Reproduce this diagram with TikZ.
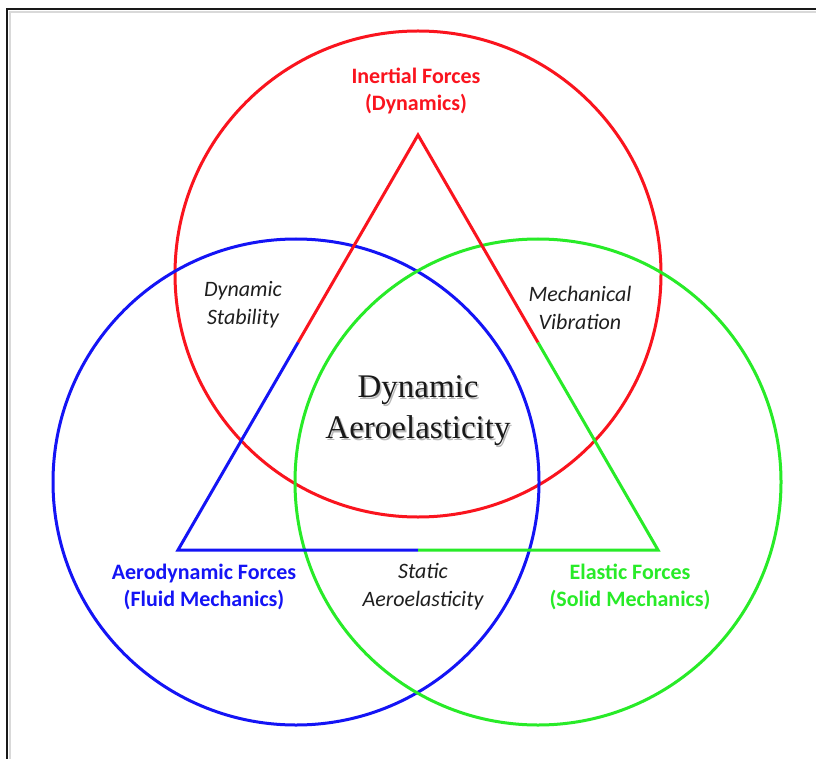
\documentclass[tikz,border=0pt]{standalone}
\usepackage{fontspec}
\setmainfont{Carlito}
\newfontfamily\serifbig{Liberation Serif}
\definecolor{vred}{RGB}{250,20,30}
\definecolor{vblue}{RGB}{20,20,245}
\definecolor{vgreen}{RGB}{40,235,40}
\newcommand{\shadowed}[1]{\makebox[0pt][l]{\hspace{1.6pt}\raisebox{-1.6pt}[0pt][0pt]{\color{black!28}#1}}#1}
\tikzset{
  ring/.style={circle,draw,line width=3pt,minimum size=486pt,inner sep=0pt},
  tri/.style={line width=3pt,line join=miter},
  headlab/.style={font=\fontsize{22}{27}\selectfont\bfseries,align=center},
  itlab/.style={font=\fontsize{22}{28}\selectfont\itshape,align=center,text=black!88},
  biglab/.style={font=\serifbig\fontsize{33}{41}\selectfont,align=center}
}
\begin{document}
\begin{tikzpicture}[x=1pt,y=-1pt]
\useasboundingbox (0,0) rectangle (816,759);
\fill[white] (0,0) rectangle (816,759);
\draw[black!15,line width=1.5pt] (10,775) -- (10,12) -- (830,12);
\draw[black!90,line width=2pt] (7,775) -- (7,9) -- (830,9);
% circles
\node[ring,draw=vred] (cR) at (418,274) {};
\node[ring,draw=vblue] (cB) at (296,482) {};
\node[ring,draw=vgreen] (cG) at (538,482) {};
% triangle
\coordinate (A) at (418,135);
\coordinate (L) at (178,550);
\coordinate (Rt) at (658,550);
\coordinate (ML) at (298,342.5);
\coordinate (MR) at (538,342.5);
\coordinate (MB) at (418,550);
\draw[tri,vred,line cap=butt] (ML) -- (A) -- (MR);
\draw[tri,vblue] (ML) -- (L) -- (MB);
\draw[tri,vgreen] (MB) -- (Rt) -- (MR);
% labels
\node[headlab,text=vred] (tI) at (416,91) {Inertial Forces\\(Dynamics)};
\node[headlab,text=vblue] (tA) at (204,587) {Aerodynamic Forces\\(Fluid Mechanics)};
\node[headlab,text=vgreen] (tE) at (630,587) {Elastic Forces\\(Solid Mechanics)};
\node[itlab] (tDS) at (243,305) {Dynamic\\Stability};
\node[itlab] (tMV) at (580,308) {Mechanical\\Vibration};
\node[itlab] (tSA) at (423,587) {Static\\Aeroelasticity};
\node[biglab,text=black!90] (tDA) at (418,411) {\shadowed{Dynamic}\\\shadowed{Aeroelasticity}};
\end{tikzpicture}
\end{document}
